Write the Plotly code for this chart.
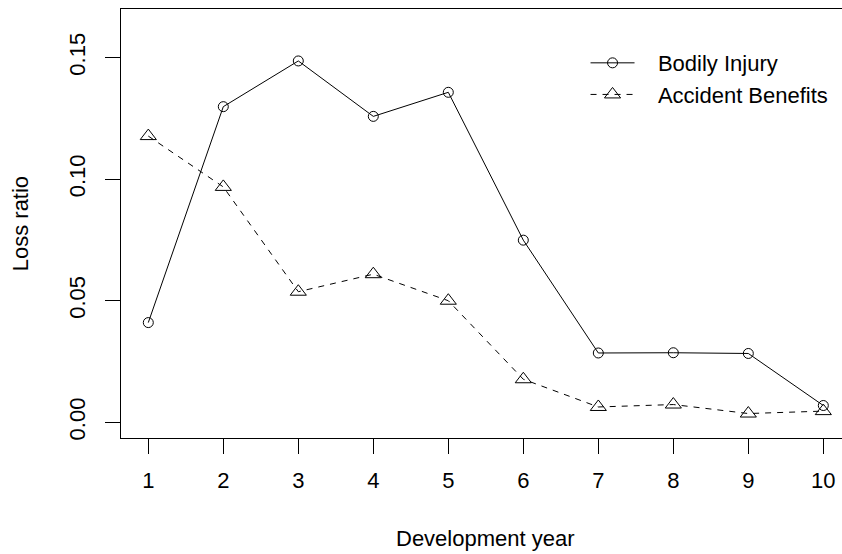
import plotly.graph_objects as go

# Development years and loss ratios by line of business
years = [1, 2, 3, 4, 5, 6, 7, 8, 9, 10]
bodily_injury = [0.0410, 0.1298, 0.1486, 0.1258, 0.1357, 0.0749, 0.0285, 0.0286, 0.0283, 0.0069]
accident_benefits = [0.1177, 0.0968, 0.0537, 0.0609, 0.0500, 0.0177, 0.0063, 0.0073, 0.0036, 0.0046]
y_ticks = [0.00, 0.05, 0.10, 0.15]
y_tick_text = ["0.00", "0.05", "0.10", "0.15"]

FONT = "Liberation Sans, Arial, Helvetica, sans-serif"
FS = 22
PAD = "\u00a0\u00a0\u00a0"  # spacing between legend symbol and label

fig = go.Figure()
fig.add_trace(go.Scatter(
    x=years, y=bodily_injury, name=PAD + "Bodily Injury",
    mode="lines+markers",
    line=dict(color="black", width=1),
    marker=dict(symbol="circle-open", size=10, color="black", line=dict(width=1)),
))
fig.add_trace(go.Scatter(
    x=years, y=accident_benefits, name=PAD + "Accident Benefits",
    mode="lines+markers",
    line=dict(color="black", width=1, dash="6px,6px"),
    marker=dict(symbol="triangle-up-open", size=14, color="black", line=dict(width=1)),
))

fig.update_layout(
    width=842, height=554,
    margin=dict(l=121, r=0, t=9, b=116),
    paper_bgcolor="white", plot_bgcolor="white",
    font=dict(family=FONT, size=FS, color="black"),
    showlegend=True,
    legend=dict(
        x=0.6443, y=0.923, xanchor="left", yanchor="top",
        bgcolor="rgba(0,0,0,0)", borderwidth=0,
        font=dict(family=FONT, size=FS, color="black"),
        itemwidth=44, tracegroupgap=0,
    ),
    xaxis=dict(
        range=[0.636, 10.249],
        tickmode="array", tickvals=years, ticktext=[str(v) for v in years],
        showgrid=False, zeroline=False,
        showline=True, linecolor="black", linewidth=1, mirror=True,
        ticks="outside", ticklen=15, tickwidth=1, tickcolor="black",
        ticklabelstandoff=8,
        tickfont=dict(family=FONT, size=FS, color="black"),
    ),
    yaxis=dict(
        range=[-0.00646, 0.16996],
        tickmode="array", tickvals=y_ticks, ticktext=y_tick_text,
        tickangle=-90,
        showgrid=False, zeroline=False,
        showline=True, linecolor="black", linewidth=1, mirror=False,
        ticks="outside", ticklen=15, tickwidth=1, tickcolor="black",
        ticklabelstandoff=11,
        tickfont=dict(family=FONT, size=FS, color="black"),
    ),
    annotations=[
        dict(text="Development year", xref="paper", yref="paper",
             x=0.5058, y=-0.235, xanchor="center", yanchor="middle",
             showarrow=False, font=dict(family=FONT, size=FS, color="black")),
        dict(text="Loss ratio", xref="paper", yref="paper",
             x=-0.139, y=0.5, xanchor="center", yanchor="middle", textangle=-90,
             showarrow=False, font=dict(family=FONT, size=FS, color="black")),
    ],
)

fig.write_html("out.html")
